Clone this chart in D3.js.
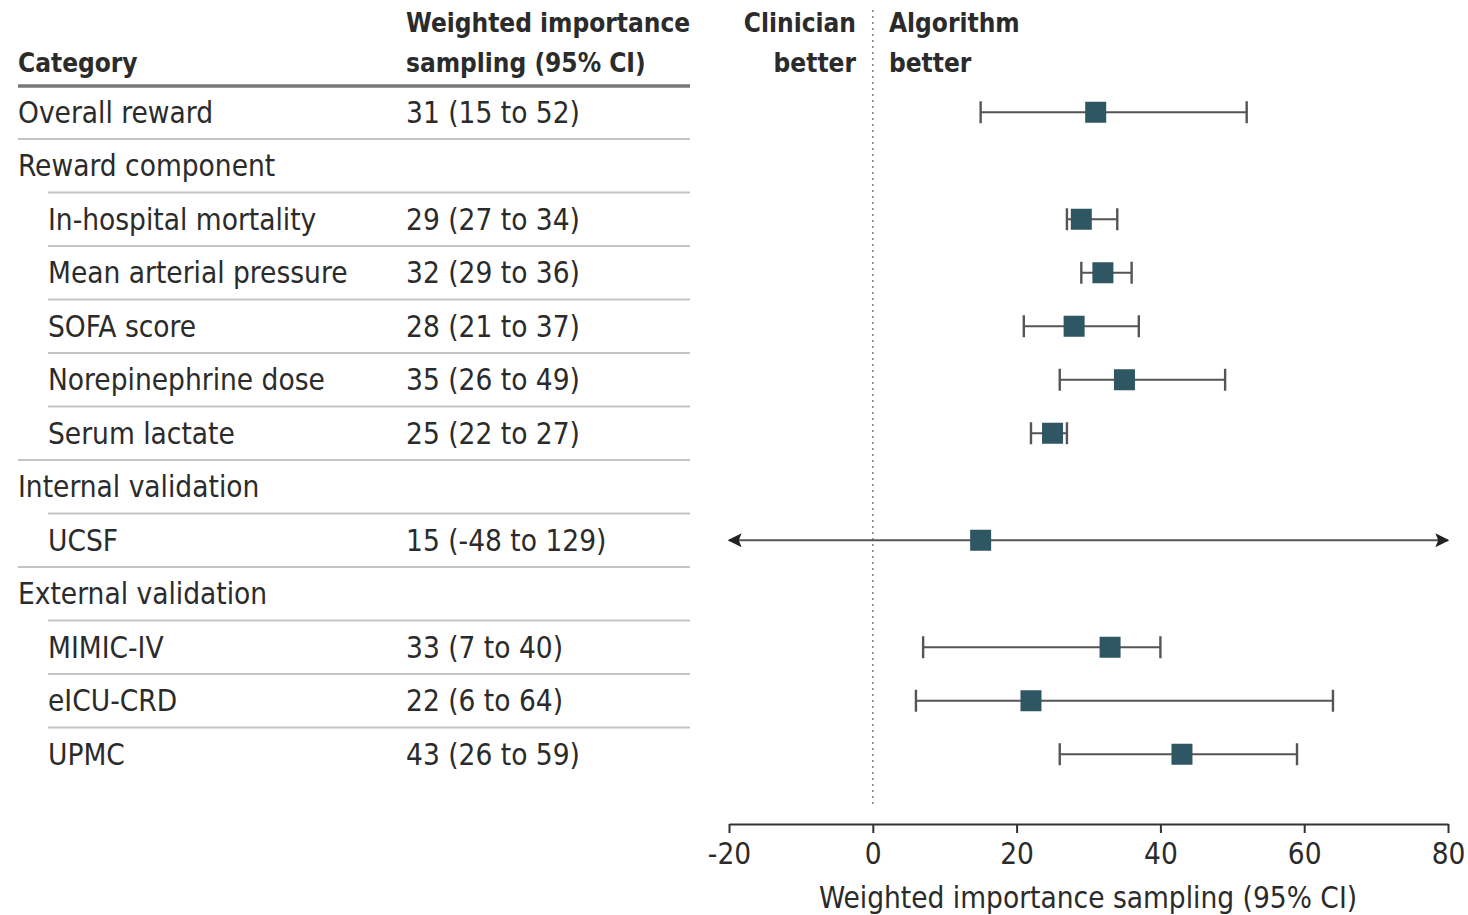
<!DOCTYPE html>
<html>
<head>
<meta charset="utf-8">
<script src="https://cdn.jsdelivr.net/npm/d3@7"></script>
<style>
  html, body { margin: 0; padding: 0; background: #fff; }
  svg text { font-family: "DejaVu Sans Condensed", "Liberation Sans Narrow", sans-serif; fill: #2b2b2b; }
</style>
</head>
<body>
<svg id="chart" width="1468" height="915"></svg>
<script>
// Row labels, top to bottom; indent marks sub-items within a group
const categories = [
  "Overall reward", "Reward component", "In-hospital mortality", "Mean arterial pressure",
  "SOFA score", "Norepinephrine dose", "Serum lactate", "Internal validation", "UCSF",
  "External validation", "MIMIC-IV", "eICU-CRD", "UPMC"
];
const indented = [false, false, true, true, true, true, true, false, true, false, true, true, true];
// Point estimates and 95% CI bounds (null for group headings)
const estimates = [31, null, 29, 32, 28, 35, 25, null, 15, null, 33, 22, 43];
const lowerCI   = [15, null, 27, 29, 21, 26, 22, null, -48, null, 7, 6, 26];
const upperCI   = [52, null, 34, 36, 37, 49, 27, null, 129, null, 40, 64, 59];
const xTicks = [-20, 0, 20, 40, 60, 80];
const xDomain = [-20, 80];

const rows = categories.map((c, i) => ({
  label: c, indent: indented[i], est: estimates[i], lo: lowerCI[i], hi: upperCI[i]
}));

const svg = d3.select("#chart");
const x = d3.scaleLinear().domain(xDomain).range([729, 1448]);
const y = d3.scaleBand().domain(d3.range(rows.length)).range([85.5, 781]);
const yc = i => y(i) + y.bandwidth() / 2;

const fs = 29.5;
const fsBold = 26;
const textCol = "#2b2b2b";
const markCol = "#2f5663";
const lineCol = "#555";

// Column headers
const head = svg.append("g").attr("font-size", fsBold).attr("font-weight", "bold");
head.append("text").attr("x", 18).attr("y", 72).text("Category");
head.append("text").attr("x", 406).attr("y", 32).text("Weighted importance");
head.append("text").attr("x", 406).attr("y", 72).text("sampling (95% CI)");
head.append("text").attr("x", 856).attr("y", 32).attr("text-anchor", "end").text("Clinician");
head.append("text").attr("x", 856).attr("y", 72).attr("text-anchor", "end").text("better");
head.append("text").attr("x", 889).attr("y", 32).text("Algorithm");
head.append("text").attr("x", 889).attr("y", 72).text("better");

// Header rule
svg.append("line").attr("x1", 18).attr("x2", 690).attr("y1", 86).attr("y2", 86)
  .attr("stroke", "#777").attr("stroke-width", 3.5);

// Table text
const tbl = svg.append("g").attr("font-size", fs);
tbl.selectAll("text.cat").data(rows).join("text").attr("class", "cat")
  .attr("x", d => d.indent ? 48 : 18)
  .attr("y", (d, i) => yc(i)).attr("dy", "0.35em").text(d => d.label);
tbl.selectAll("text.val").data(rows.filter(d => d.est !== null)).join("text").attr("class", "val")
  .attr("x", 406)
  .attr("y", d => yc(rows.indexOf(d))).attr("dy", "0.35em")
  .text(d => `${d.est} (${d.lo} to ${d.hi})`);

// Row separators: start at the indent when the next row is a sub-item
svg.append("g").selectAll("line").data(rows.slice(0, -1)).join("line")
  .attr("x1", (d, i) => rows[i + 1].indent ? 48 : 18).attr("x2", 690)
  .attr("y1", (d, i) => y(i) + y.bandwidth()).attr("y2", (d, i) => y(i) + y.bandwidth())
  .attr("stroke", "#c4c4c4").attr("stroke-width", 2);

// Null reference line at 0
svg.append("line").attr("x1", x(0)).attr("x2", x(0)).attr("y1", 10).attr("y2", 808)
  .attr("stroke", "#888").attr("stroke-width", 1.6).attr("stroke-dasharray", "2,4");

// X axis
const axis = svg.append("g").attr("transform", "translate(0,824)")
  .call(d3.axisBottom(x).tickValues(xTicks).tickSize(9).tickSizeOuter(0).tickPadding(10));
axis.select(".domain").attr("stroke", "#333").attr("stroke-width", 2);
axis.selectAll(".tick line").attr("stroke", "#333").attr("stroke-width", 2);
axis.selectAll(".tick text").attr("font-size", fs).attr("fill", textCol)
  .attr("font-family", "'DejaVu Sans Condensed', sans-serif")
  .text(d => d < 0 ? "-" + Math.abs(d) : d);
svg.append("text").attr("x", 1088).attr("y", 908).attr("text-anchor", "middle")
  .attr("font-size", fs).text("Weighted importance sampling (95% CI)");

// Arrowheads for intervals running past the axis
const defs = svg.append("defs");
defs.append("marker").attr("id", "arrowEnd").attr("viewBox", "0 0 10 10")
  .attr("refX", 9).attr("refY", 5).attr("markerUnits", "userSpaceOnUse")
  .attr("markerWidth", 16).attr("markerHeight", 14).attr("orient", "auto")
  .append("path").attr("d", "M0,0 L10,5 L0,10 L2,5 Z").attr("fill", "#222");
defs.append("marker").attr("id", "arrowStart").attr("viewBox", "0 0 10 10")
  .attr("refX", 1).attr("refY", 5).attr("markerUnits", "userSpaceOnUse")
  .attr("markerWidth", 16).attr("markerHeight", 14).attr("orient", "auto")
  .append("path").attr("d", "M10,0 L0,5 L10,10 L8,5 Z").attr("fill", "#222");

const pts = rows.map((d, i) => ({ ...d, i })).filter(d => d.est !== null);
const clip = v => Math.max(xDomain[0], Math.min(xDomain[1], v));
const g = svg.append("g");

g.selectAll("line.ci").data(pts).join("line").attr("class", "ci")
  .attr("x1", d => x(clip(d.lo))).attr("x2", d => x(clip(d.hi)))
  .attr("y1", d => yc(d.i)).attr("y2", d => yc(d.i))
  .attr("stroke", lineCol).attr("stroke-width", 2.2)
  .attr("marker-start", d => d.lo < xDomain[0] ? "url(#arrowStart)" : null)
  .attr("marker-end", d => d.hi > xDomain[1] ? "url(#arrowEnd)" : null);

const capH = 22;
const caps = pts.flatMap(d => [
  d.lo >= xDomain[0] ? { v: d.lo, i: d.i } : null,
  d.hi <= xDomain[1] ? { v: d.hi, i: d.i } : null
]).filter(Boolean);
g.selectAll("line.cap").data(caps).join("line").attr("class", "cap")
  .attr("x1", d => x(d.v)).attr("x2", d => x(d.v))
  .attr("y1", d => yc(d.i) - capH / 2).attr("y2", d => yc(d.i) + capH / 2)
  .attr("stroke", lineCol).attr("stroke-width", 2.4);

const sq = 21;
g.selectAll("rect.est").data(pts).join("rect").attr("class", "est")
  .attr("x", d => x(d.est) - sq / 2).attr("y", d => yc(d.i) - sq / 2)
  .attr("width", sq).attr("height", sq).attr("fill", markCol);
</script>
</body>
</html>
